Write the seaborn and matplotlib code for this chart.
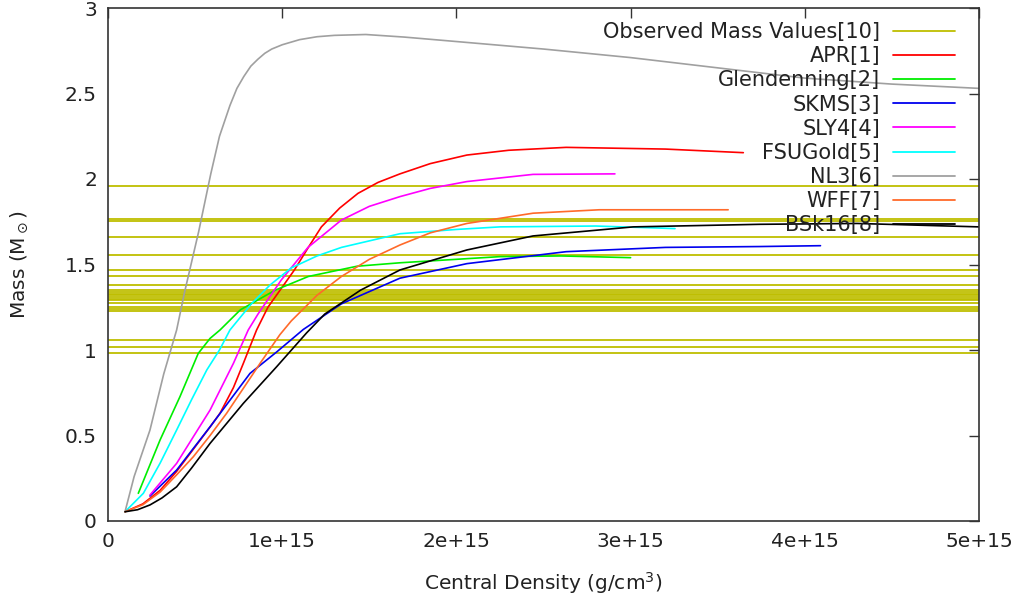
import seaborn as sns
from matplotlib import pyplot as plt
from matplotlib.ticker import FuncFormatter
import pandas as pd

# central density in units of 1e15 g/cm^3, mass in solar masses
apr_x = [0.0976, 0.2, 0.3, 0.394, 0.49, 0.586, 0.643, 0.72, 0.777, 0.853, 0.918, 1.07, 1.15, 1.225, 1.33, 1.435, 1.55, 1.676, 1.85, 2.06, 2.3, 2.63, 3.2, 3.647]
apr_m = [0.054, 0.1, 0.18, 0.29, 0.42, 0.55, 0.63, 0.78, 0.922, 1.117, 1.25, 1.468, 1.6, 1.72, 1.83, 1.916, 1.98, 2.03, 2.09, 2.14, 2.168, 2.185, 2.175, 2.154]

glen_x = [0.174, 0.299, 0.413, 0.518, 0.586, 0.643, 0.76, 0.96, 1.15, 1.43, 1.676, 2.25, 2.6, 3.0]
glen_m = [0.162, 0.474, 0.727, 0.98, 1.068, 1.117, 1.235, 1.35, 1.43, 1.49, 1.51, 1.546, 1.55, 1.54]

skms_x = [0.241, 0.394, 0.586, 0.815, 0.97, 1.121, 1.34, 1.676, 2.06, 2.63, 3.2, 3.74, 4.09]
skms_m = [0.146, 0.298, 0.551, 0.863, 0.99, 1.12, 1.27, 1.42, 1.505, 1.575, 1.6, 1.605, 1.61]

sly4_x = [0.241, 0.394, 0.586, 0.72, 0.805, 0.861, 0.995, 1.148, 1.34, 1.5, 1.676, 1.85, 2.06, 2.44, 2.91]
sly4_m = [0.152, 0.337, 0.649, 0.922, 1.117, 1.21, 1.41, 1.6, 1.76, 1.84, 1.897, 1.945, 1.985, 2.027, 2.03]

fsu_x = [0.0976, 0.203, 0.3, 0.394, 0.48, 0.567, 0.64, 0.7, 0.823, 0.93, 1.052, 1.2, 1.34, 1.676, 2.0, 2.25, 2.8, 3.255]
fsu_m = [0.054, 0.162, 0.34, 0.532, 0.71, 0.883, 1.0, 1.117, 1.27, 1.38, 1.48, 1.55, 1.6, 1.68, 1.705, 1.72, 1.725, 1.71]

nl3_x = [0.0976, 0.15, 0.241, 0.32, 0.394, 0.44, 0.52, 0.59, 0.64, 0.7, 0.74, 0.78, 0.82, 0.86, 0.9, 0.94, 1.0, 1.1, 1.2, 1.3, 1.48, 1.7, 1.93, 2.5, 3.0, 3.5, 4.0, 4.5, 5.0]
nl3_m = [0.054, 0.26, 0.532, 0.86, 1.117, 1.34, 1.69, 2.03, 2.25, 2.43, 2.53, 2.6, 2.66, 2.7, 2.735, 2.76, 2.785, 2.815, 2.832, 2.84, 2.845, 2.83, 2.81, 2.76, 2.71, 2.65, 2.59, 2.555, 2.53]

wff_x = [0.0976, 0.2, 0.3, 0.394, 0.49, 0.586, 0.681, 0.873, 0.987, 1.052, 1.2, 1.34, 1.5, 1.676, 1.85, 2.06, 2.44, 2.82, 3.56]
wff_m = [0.054, 0.095, 0.17, 0.27, 0.376, 0.5, 0.63, 0.922, 1.09, 1.17, 1.32, 1.43, 1.53, 1.614, 1.685, 1.74, 1.8, 1.82, 1.82]

bsk_x = [0.0976, 0.17, 0.241, 0.31, 0.394, 0.48, 0.586, 0.777, 0.968, 1.14, 1.244, 1.45, 1.676, 2.06, 2.44, 3.015, 3.74, 4.3, 5.0]
bsk_m = [0.054, 0.066, 0.094, 0.135, 0.2, 0.31, 0.454, 0.688, 0.902, 1.1, 1.21, 1.35, 1.468, 1.585, 1.667, 1.72, 1.735, 1.74, 1.72]

observed = [1.96, 1.765, 1.755, 1.66, 1.555, 1.47, 1.43, 1.38, 1.35, 1.34, 1.33, 1.32, 1.31, 1.30, 1.29,
            1.275, 1.25, 1.24, 1.23, 1.06, 1.02, 0.985]

models = ["APR[1]", "Glendenning[2]", "SKMS[3]", "SLY4[4]", "FSUGold[5]", "NL3[6]", "WFF[7]", "BSk16[8]"]
colors = ["#ff0000", "#00ee00", "#0000ee", "#ff00ff", "#00ffff", "#a0a0a0", "#ff6a2a", "#000000"]
series = [(apr_x, apr_m), (glen_x, glen_m), (skms_x, skms_m), (sly4_x, sly4_m),
          (fsu_x, fsu_m), (nl3_x, nl3_m), (wff_x, wff_m), (bsk_x, bsk_m)]

frames = []
for name, (xs, ms) in zip(models, series):
    frames.append(pd.DataFrame({"density": [v * 1e15 for v in xs], "mass": ms, "model": name}))
data = pd.concat(frames, ignore_index=True)

sns.set_theme(style="white")
plt.rcParams["font.family"] = ["DejaVu Sans"]
FS = 14.5

fig = plt.figure(figsize=(10.16, 5.99), dpi=100)
ax = fig.add_axes([108 / 1016, 1 - 521 / 599, (979 - 108) / 1016, (521 - 8) / 599])

for i, m in enumerate(observed):
    ax.axhline(m, color="#bebe00", lw=1.3, label="Observed Mass Values[10]" if i == 0 else None, zorder=1)

for name, col in zip(models, colors):
    sub = data[data["model"] == name]
    sns.lineplot(data=sub, x="density", y="mass", color=col, lw=1.2, sort=False,
                 estimator=None, label=name, ax=ax, zorder=2)

ax.set_xlim(0, 5e15)
ax.set_ylim(0, 3)
ax.set_xticks([0, 1e15, 2e15, 3e15, 4e15, 5e15])
ax.set_yticks([0, 0.5, 1, 1.5, 2, 2.5, 3])
ax.xaxis.set_major_formatter(FuncFormatter(lambda v, p: "%g" % v))
ax.yaxis.set_major_formatter(FuncFormatter(lambda v, p: "%g" % v))
ax.tick_params(direction="in", length=7, width=1, color="#333333", labelsize=FS,
               labelcolor="#222222", top=True, right=True, pad=8)
for s in ax.spines.values():
    s.set_color("#333333")
    s.set_linewidth(1.2)
ax.grid(False)

ax.set_xlabel(r"Central Density (g/cm$^3$)", fontsize=FS, color="#222222", labelpad=14)
ax.set_ylabel(r"Mass (M$_\odot$)", fontsize=FS, color="#222222")
ax.yaxis.set_label_coords(-0.09, 0.5)

leg = ax.legend(loc="upper right", bbox_to_anchor=(955 / 1016, 1 - 22 / 599), bbox_transform=fig.transFigure,
                frameon=False, markerfirst=False, fontsize=15, handlelength=3.0, handletextpad=0.6,
                labelspacing=0.2, borderpad=0, borderaxespad=0)
for t in leg.get_texts():
    t.set_color("#222222")
for h in leg.get_lines():
    h.set_linewidth(1.3)

fig.savefig("out.png", dpi=100)
